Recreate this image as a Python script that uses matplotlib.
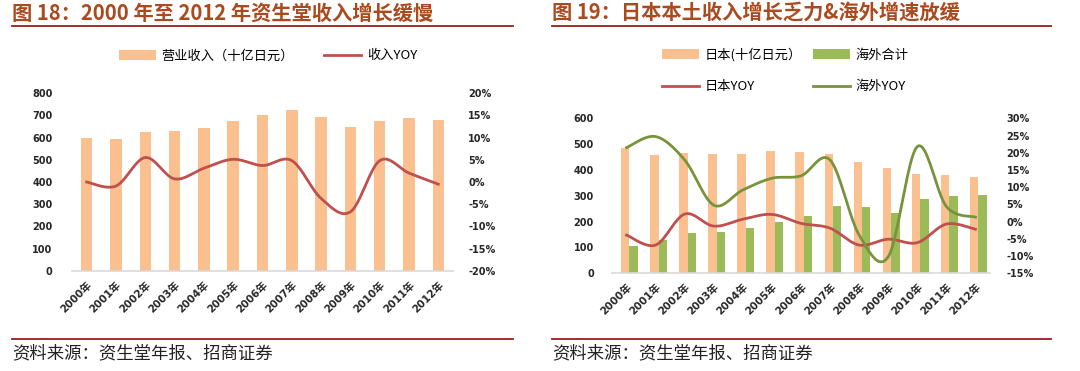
import numpy as np
import matplotlib
matplotlib.use('Agg')
import matplotlib.pyplot as plt
from matplotlib.lines import Line2D
from matplotlib.ticker import FuncFormatter

plt.rcParams['font.family'] = ['DejaVu Sans', 'Noto Sans CJK SC']
plt.rcParams['font.weight'] = 'bold'

# 数据
years = ['2000年', '2001年', '2002年', '2003年', '2004年', '2005年', '2006年',
         '2007年', '2008年', '2009年', '2010年', '2011年', '2012年']
revenue = [600, 593, 626, 631, 643, 676, 701, 725, 694, 647, 676, 689, 680]
revenue_yoy = [0.0, -0.9, 5.5, 0.7, 3.1, 5.1, 3.7, 4.8, -3.7, -6.7, 4.8, 2.0, -0.5]

japan = [486, 458, 466, 462, 462, 472, 468, 462, 430, 408, 383, 379, 373]
overseas = [105, 129, 155, 161, 177, 197, 222, 261, 258, 235, 286, 301, 303]
japan_yoy = [-3.9, -6.8, 2.2, -1.3, 0.7, 2.1, -0.5, -1.9, -6.8, -5.1, -6.1, -0.7, -2.2]
overseas_yoy = [21.5, 24.7, 17.9, 4.8, 9.2, 12.6, 13.3, 17.9, -3.9, -10.2, 21.8, 4.4, 1.3]

ORANGE = '#FAC090'
GREEN = '#9BBB59'
RED = '#C0504D'
OLIVE = '#77933C'
TITLE_C = '#AA4A1E'
RULE_C = '#9B1B1B'
TICK_C = '#262626'


def smooth(x, y, n=24):
    # Excel 风格的平滑线（Catmull-Rom 贝塞尔）
    p = np.column_stack([x, y]).astype(float)
    p = np.vstack([p[0], p, p[-1]])
    out = []
    t = np.linspace(0, 1, n)[:, None]
    for i in range(1, len(p) - 2):
        p0, p1, p2, p3 = p[i - 1], p[i], p[i + 1], p[i + 2]
        c1 = p1 + (p2 - p0) / 6
        c2 = p2 - (p3 - p1) / 6
        seg = ((1 - t) ** 3) * p1 + 3 * ((1 - t) ** 2) * t * c1 + 3 * (1 - t) * t ** 2 * c2 + t ** 3 * p2
        out.append(seg if i == 1 else seg[1:])
    out = np.vstack(out)
    return out[:, 0], out[:, 1]


def style_axes(ax, ax2):
    for a in (ax, ax2):
        for s in a.spines.values():
            s.set_visible(False)
        a.tick_params(length=0, labelsize=7, colors=TICK_C)
    ax.spines['bottom'].set_visible(True)
    ax.spines['bottom'].set_color('#D9D9D9')
    ax.spines['bottom'].set_linewidth(1.2)


def xlabels(ax, n):
    ax.set_xticks(range(n))
    ax.set_xticklabels(years, rotation=45, ha='right', va='top',
                       rotation_mode='anchor', fontsize=7.5)
    ax.tick_params(axis='x', pad=6)
    ax.set_xlim(-0.5, n - 0.5)


def header(x0, x1, title):
    fig.text(x0 / 1080, 1 - 13 / 371, title, fontsize=14.6, fontweight='bold',
             color=TITLE_C, va='center', ha='left', family=['Noto Sans CJK SC'])
    fig.add_artist(Line2D([x0 / 1080, x1 / 1080], [1 - 26 / 371] * 2, color=RULE_C, lw=1.3))
    fig.add_artist(Line2D([x0 / 1080, x1 / 1080], [1 - 339 / 371] * 2, color=RULE_C, lw=1.3))
    fig.text(x0 / 1080, 1 - 353 / 371, '资料来源：资生堂年报、招商证券', fontsize=12.5,
             color='#222222', va='center', ha='left', family=['Noto Sans CJK SC'],
             fontweight='light')


pct = FuncFormatter(lambda v, _: f'{v:.0f}%')
leg_font = {'family': ['Noto Sans CJK SC'], 'size': 9.5, 'weight': 'normal'}

fig = plt.figure(figsize=(10.8, 3.71), dpi=100)
x = np.arange(len(years))

# 图18
ax1 = fig.add_axes([72 / 1080, 1 - 271 / 371, 381 / 1080, 178 / 371])
ax1b = ax1.twinx()
b1 = ax1.bar(x, revenue, width=0.39, color=ORANGE, label='营业收入（十亿日元）')
sx, sy = smooth(x, revenue_yoy)
l1, = ax1b.plot(sx, sy, color=RED, lw=2.0, label='收入YOY')
ax1.set_ylim(0, 800)
ax1.set_yticks(range(0, 801, 100))
ax1b.set_ylim(-20, 20)
ax1b.set_yticks(range(-20, 21, 5))
ax1b.yaxis.set_major_formatter(pct)
style_axes(ax1, ax1b)
ax1.tick_params(axis='y', pad=14)
ax1b.tick_params(axis='y', pad=11)
xlabels(ax1, len(years))
header(12, 513, '图 18：2000 年至 2012 年资生堂收入增长缓慢')
fig.legend(handles=[b1, l1], loc='center left', bbox_to_anchor=(112 / 1080, 1 - 56 / 371),
           ncol=2, frameon=False, handlelength=2.8, handletextpad=0.45,
           columnspacing=2.3, borderpad=0, prop=leg_font)

# 图19
ax2 = fig.add_axes([612 / 1080, 1 - 273.3 / 371, 378 / 1080, 155 / 371])
ax2b = ax2.twinx()
w = 0.29
b2 = ax2.bar(x - w / 2 + 0.1, japan, width=w, color=ORANGE, label='日本(十亿日元）')
b3 = ax2.bar(x + w / 2 + 0.1, overseas, width=w, color=GREEN, label='海外合计')
sx, sy = smooth(x, japan_yoy)
l2, = ax2b.plot(sx, sy, color=RED, lw=2.0, label='日本YOY')
sx, sy = smooth(x, overseas_yoy)
l3, = ax2b.plot(sx, sy, color=OLIVE, lw=2.0, label='海外YOY')
ax2.set_ylim(0, 600)
ax2.set_yticks(range(0, 601, 100))
ax2b.set_ylim(-15, 30)
ax2b.set_yticks(range(-15, 31, 5))
ax2b.yaxis.set_major_formatter(pct)
style_axes(ax2, ax2b)
ax2.tick_params(axis='y', pad=13)
ax2b.tick_params(axis='y', pad=12)
xlabels(ax2, len(years))
header(552, 1051, '图 19：日本本土收入增长乏力&海外增速放缓')
fig.legend(handles=[b2, l2, b3, l3], loc='center left',
           bbox_to_anchor=(655 / 1080, 1 - 70.5 / 371),
           ncol=2, frameon=False, handlelength=2.8, handletextpad=0.45,
           columnspacing=0.85, labelspacing=1.4, borderpad=0, prop=leg_font)

fig.savefig('out.png', dpi=100)
